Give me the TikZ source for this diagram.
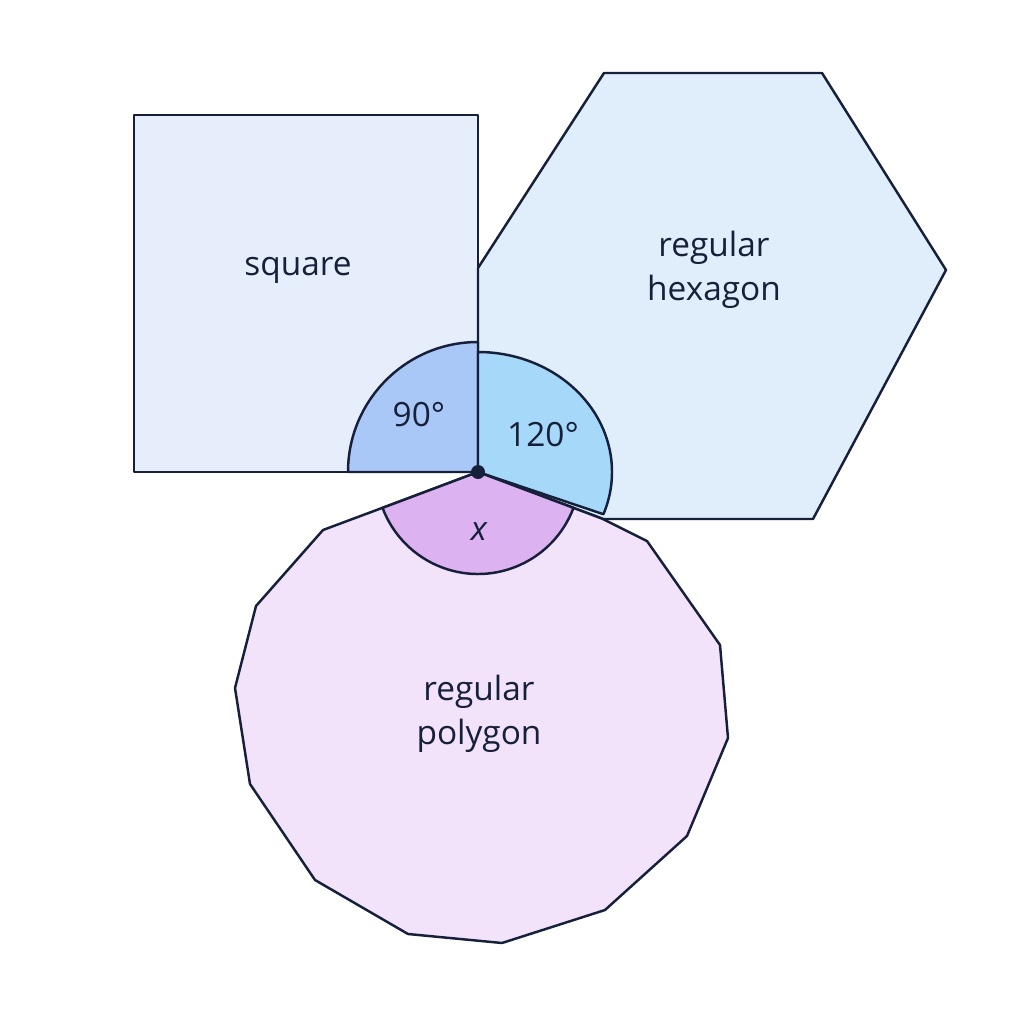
\documentclass[tikz,border=0pt]{standalone}
\usepackage{fontspec}
\setmainfont{Open Sans}
\begin{document}
\begin{tikzpicture}[x=0.01cm,y=-0.01cm,
  edge/.style={draw=ink,line width=0.7pt,line join=round},
  lab/.style={font=\fontsize{9.5}{12.5}\selectfont,text=ink,align=center}]
\definecolor{ink}{HTML}{16203A}
\definecolor{sqf}{HTML}{E6EEFB}
\definecolor{hxf}{HTML}{E0EEFB}
\definecolor{pgf}{HTML}{F2E3FA}
\definecolor{a1}{HTML}{A9C8F7}
\definecolor{a2}{HTML}{A6D8FA}
\definecolor{a3}{HTML}{DDB2F0}
\useasboundingbox[fill=white] (0,0) rectangle (1024,1024);
\coordinate (v) at (478,472);
\draw[edge,fill=sqf] (134,115) rectangle (v);
\draw[edge,fill=hxf] (478,268) -- (604,73) -- (822,73) -- (946,270) -- (813,519) -- (603,519) -- (v) -- cycle;
\draw[edge,fill=pgf] (v) -- (603,519) -- (647,541) -- (720,645) -- (728,738) -- (687,836) -- (605,910) -- (502,943) -- (408,934) -- (315,880) -- (250,784) -- (235,688) -- (256,606) -- (323,530) -- (390,505) -- cycle;
\draw[edge,fill=a1] (v) -- ++(0,-130) arc[start angle=-90,end angle=-180,radius=130] -- cycle;
\draw[edge,fill=a2] (v) -- ++(0,-120) arc[start angle=-90,end angle=20.6,x radius=134,y radius=120] -- cycle;
\draw[edge,fill=a3] (v) -- ++({102*cos(20.6)},{102*sin(20.6)}) arc[start angle=20.6,end angle=159.4,radius=102] -- cycle;
\fill[ink] (v) circle[radius=7];
\node[lab] (s) at (298,270) {square};
\node[lab] (h) at (714,270) {regular\\hexagon};
\node[lab] (p) at (479,714) {regular\\polygon};
\node[lab] (n) at (419,415) {90°};
\node[lab] (t) at (543,435) {120°};
\node[lab] (x) at (479,532) {\itshape x};
\end{tikzpicture}
\end{document}
